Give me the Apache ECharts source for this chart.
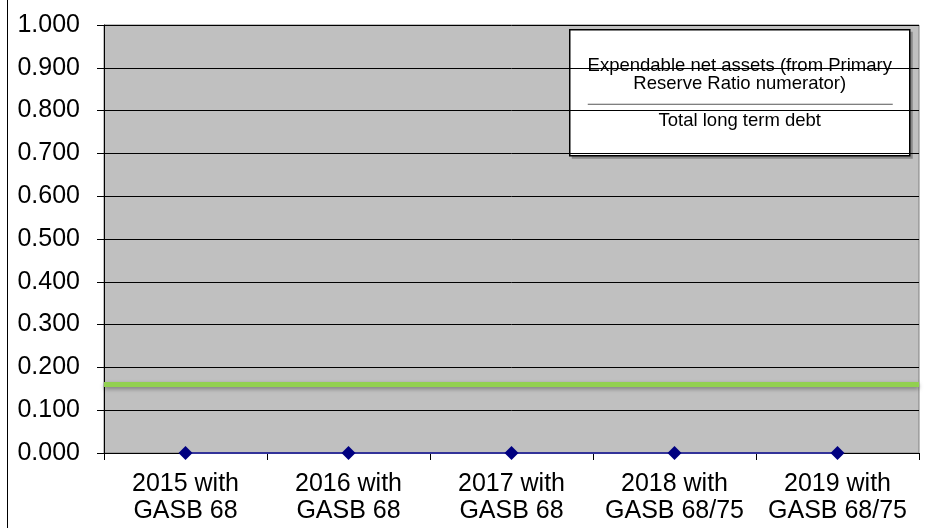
<!DOCTYPE html>
<html>
<head>
<meta charset="utf-8">
<script src="https://cdn.jsdelivr.net/npm/echarts@6/dist/echarts.min.js"></script>
<style>
  html, body { margin: 0; padding: 0; background: #ffffff; }
  #chart { width: 932px; height: 528px; }
</style>
</head>
<body>
<div id="chart"></div>
<script>
// Fiscal years shown on the category axis
const years = ['2015 with\nGASB 68', '2016 with\nGASB 68', '2017 with\nGASB 68', '2018 with\nGASB 68/75', '2019 with\nGASB 68/75'];
// Viability ratio per year
const ratioValues = [0.000, 0.000, 0.000, 0.000, 0.000];
// Benchmark level drawn across the whole plot
const benchmark = 0.157;
// Value axis range
const yMin = 0, yMax = 1, yStep = 0.1;

const FONT = '"Liberation Sans", Arial, sans-serif';

const chart = echarts.init(document.getElementById('chart'), null, { renderer: 'canvas' });

chart.setOption({
  animation: false,
  backgroundColor: '#ffffff',
  grid: {
    left: 104, right: 13, top: 25, bottom: 75,
    show: true, backgroundColor: '#c0c0c0', borderColor: '#808080', borderWidth: 1
  },
  xAxis: {
    type: 'category',
    data: years,
    boundaryGap: true,
    axisLine: { show: true, lineStyle: { color: '#000', width: 1 } },
    axisTick: { show: true, length: 7, lineStyle: { color: '#000' } },
    axisLabel: {
      color: '#000', fontFamily: FONT, fontSize: 25, lineHeight: 27, margin: 18,
      interval: 0
    },
    splitLine: { show: false }
  },
  yAxis: {
    type: 'value',
    min: yMin, max: yMax, interval: yStep,
    axisLine: { show: true, lineStyle: { color: '#000', width: 1 } },
    axisTick: { show: true, length: 7, lineStyle: { color: '#000' } },
    axisLabel: {
      color: '#000', fontFamily: FONT, fontSize: 25, margin: 24,
      formatter: v => v.toFixed(3)
    },
    splitLine: { show: true, lineStyle: { color: '#000', width: 1 } }
  },
  series: [{
    type: 'line',
    data: ratioValues,
    symbol: 'diamond',
    symbolSize: 14,
    itemStyle: { color: '#000080' },
    lineStyle: { color: '#333399', width: 2 },
    z: 5,
    markLine: {
      silent: true,
      symbol: 'none',
      label: { show: false },
      lineStyle: {
        color: '#92d050', width: 5, type: 'solid',
        shadowColor: 'rgba(0,0,0,0.35)', shadowBlur: 4, shadowOffsetY: 2
      },
      data: [{ yAxis: benchmark }]
    }
  }],
  graphic: [
    // outer frame edge on the left
    { type: 'line', shape: { x1: 7.5, y1: 0, x2: 7.5, y2: 528 }, style: { stroke: '#000', lineWidth: 1 }, silent: true },
    // formula box
    {
      type: 'group', left: 569, top: 29, silent: true,
      children: [
        { type: 'rect', shape: { x: 2, y: 2, width: 341, height: 127 }, style: { fill: '#888' } },
        { type: 'rect', shape: { x: 0, y: 0, width: 340, height: 126 }, style: { fill: '#fff', stroke: '#000', lineWidth: 1.5 } },
        { type: 'text', style: { x: 170, y: 36, text: 'Expendable net assets (from Primary', fontFamily: FONT, fontSize: 18.5, fill: '#000', align: 'center', verticalAlign: 'middle' } },
        { type: 'text', style: { x: 170, y: 54.5, text: 'Reserve Ratio numerator)', fontFamily: FONT, fontSize: 18.5, fill: '#000', align: 'center', verticalAlign: 'middle' } },
        { type: 'line', shape: { x1: 18, y1: 74.5, x2: 323, y2: 74.5 }, style: { stroke: '#555', lineWidth: 1 } },
        { type: 'text', style: { x: 170, y: 91, text: 'Total long term debt', fontFamily: FONT, fontSize: 18.5, fill: '#000', align: 'center', verticalAlign: 'middle' } }
      ]
    }
  ]
});
</script>
</body>
</html>
